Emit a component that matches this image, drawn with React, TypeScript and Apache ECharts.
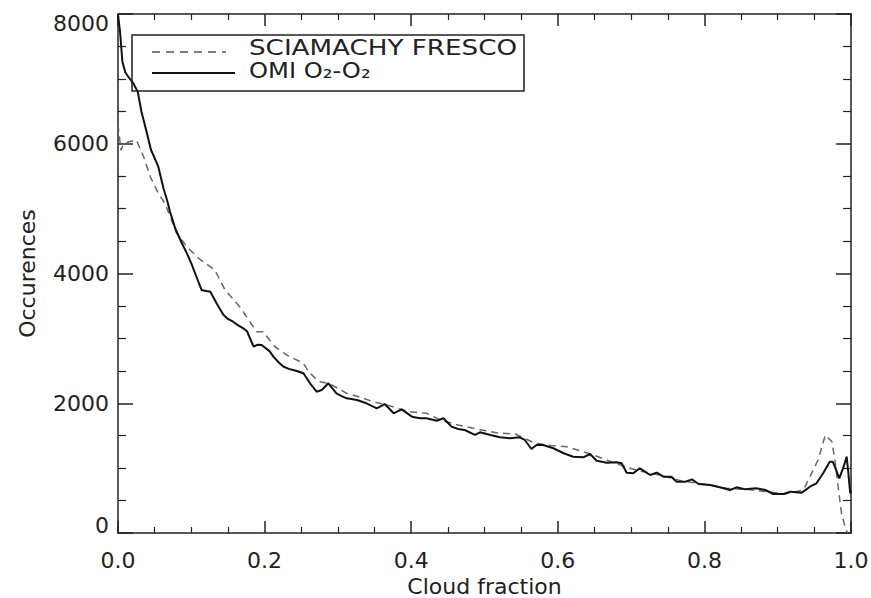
import React, { useEffect, useRef } from "react";
import * as echarts from "echarts";

// OMI O2-O2 (solid)
const cloudFractionOmi = [
  0.0, 0.003, 0.006, 0.01, 0.014, 0.021, 0.027, 0.032, 0.039, 0.045, 0.05, 0.055, 0.062, 0.067, 0.071,
  0.078, 0.087, 0.094, 0.1, 0.107, 0.114, 0.12, 0.126, 0.135, 0.144, 0.15, 0.157, 0.164, 0.171, 0.176,
  0.185, 0.19, 0.196, 0.207, 0.212, 0.22, 0.226, 0.233, 0.239, 0.246, 0.253, 0.262, 0.271, 0.278, 0.287,
  0.298, 0.305, 0.312, 0.326, 0.339, 0.353, 0.364, 0.376, 0.387, 0.401, 0.412, 0.421, 0.435, 0.444, 0.455,
  0.464, 0.473, 0.487, 0.494, 0.508, 0.521, 0.535, 0.548, 0.555, 0.564, 0.571, 0.58, 0.594, 0.608, 0.621,
  0.635, 0.644, 0.653, 0.667, 0.68, 0.687, 0.694, 0.703, 0.712, 0.726, 0.735, 0.744, 0.755, 0.762, 0.774,
  0.783, 0.792, 0.808, 0.821, 0.835, 0.844, 0.855, 0.871, 0.883, 0.894, 0.908, 0.917, 0.933, 0.944, 0.953,
  0.962, 0.971, 0.975, 0.978, 0.984, 0.99, 0.994, 0.996, 0.999, 1.0,
];
const occurrencesOmi = [
  8000, 7700, 7265, 7100, 7033, 6930, 6800, 6494, 6186, 5904, 5780, 5646, 5313, 5130, 4953,
  4697, 4470, 4311, 4157, 3950, 3746, 3730, 3720, 3530, 3360, 3300, 3257, 3200, 3155, 3110,
  2872, 2900, 2898, 2800, 2718, 2620, 2563, 2530, 2513, 2490, 2462, 2308, 2178, 2204, 2308,
  2153, 2110, 2076, 2050, 1999, 1922, 1988, 1845, 1906, 1793, 1768, 1768, 1731, 1768, 1639,
  1603, 1588, 1511, 1552, 1511, 1475, 1460, 1475, 1434, 1295, 1356, 1356, 1306, 1229, 1176,
  1167, 1218, 1114, 1084, 1090, 1074, 930, 920, 997, 894, 930, 868, 868, 791, 791,
  827, 755, 740, 704, 663, 704, 673, 689, 663, 601, 601, 637, 622, 714, 766,
  920, 1099, 1099, 1022, 843, 1022, 1176, 971, 612, 650,
];

// SCIAMACHY FRESCO (dashed)
const cloudFractionSciamachy = [
  0.0, 0.004, 0.008, 0.015, 0.025, 0.035, 0.044, 0.055, 0.064, 0.073, 0.08, 0.094, 0.11, 0.132, 0.146,
  0.162, 0.166, 0.18, 0.189, 0.198, 0.214, 0.23, 0.239, 0.253, 0.26, 0.274, 0.287, 0.3, 0.312, 0.335,
  0.348, 0.367, 0.389, 0.398, 0.421, 0.44, 0.464, 0.496, 0.52, 0.542, 0.569, 0.59, 0.612, 0.645, 0.67,
  0.692, 0.71, 0.74, 0.77, 0.8, 0.83, 0.86, 0.89, 0.91, 0.935, 0.944, 0.955, 0.965, 0.974, 0.978,
  0.983, 0.987, 0.993, 0.996,
];
const occurrencesSciamachy = [
  6300, 5900, 6000, 6030, 6057, 5800, 5492, 5236, 5082, 4825, 4620, 4413, 4234, 4054, 3746,
  3541, 3488, 3257, 3103, 3103, 2872, 2744, 2693, 2616, 2486, 2332, 2308, 2230, 2153, 2076,
  2024, 1973, 1896, 1870, 1845, 1740, 1664, 1588, 1540, 1526, 1383, 1350, 1330, 1218, 1110,
  1022, 960, 890, 800, 750, 690, 670, 630, 600, 663, 868, 1125, 1511, 1407, 1125,
  663, 304, 46, 0,
];

const xTickValues = [0, 0.2, 0.4, 0.6, 0.8, 1.0];
const yTickValues = [0, 2000, 4000, 6000, 8000];

const FONT = "DejaVu Sans";
const INK = "#222";

export default function App() {
  const ref = useRef<HTMLDivElement>(null);

  useEffect(() => {
    if (!ref.current) return;
    const chart = echarts.init(ref.current, null, { renderer: "svg" });

    const omiData = cloudFractionOmi.map((x, i) => [x, occurrencesOmi[i]]);
    const sciaData = cloudFractionSciamachy.map((x, i) => [x, occurrencesSciamachy[i]]);

    const axisLine = { show: true, onZero: false, lineStyle: { color: INK, width: 1.5 } };
    const xBase = {
      type: "value",
      min: xTickValues[0],
      max: xTickValues[xTickValues.length - 1],
      interval: 0.2,
      axisLine,
      axisTick: { show: true, inside: true, length: 12, lineStyle: { color: INK, width: 1.5 } },
      minorTick: { show: true, splitNumber: 4, length: 6, lineStyle: { color: INK, width: 1.2 } },
      splitLine: { show: false },
      minorSplitLine: { show: false },
    };
    const yBase = {
      type: "value",
      min: yTickValues[0],
      max: yTickValues[yTickValues.length - 1],
      interval: 2000,
      axisLine,
      axisTick: { show: true, inside: true, length: 15, lineStyle: { color: INK, width: 1.5 } },
      minorTick: { show: true, splitNumber: 4, length: 8, lineStyle: { color: INK, width: 1.2 } },
      splitLine: { show: false },
      minorSplitLine: { show: false },
    };
    const labelStyle = { fontSize: 22, fontFamily: FONT, color: INK };

    chart.setOption({
      animation: false,
      backgroundColor: "#fff",
      grid: { left: 118, right: 20, top: 14, bottom: 65, outerBoundsMode: "none" },
      xAxis: [
        {
          ...xBase,
          position: "bottom",
          axisLabel: {
            ...labelStyle,
            margin: 16,
            formatter: (v: number) => v.toFixed(1),
          },
          name: "Cloud fraction",
          nameLocation: "middle",
          nameGap: 42,
          nameTextStyle: { ...labelStyle },
        },
        { ...xBase, position: "top", axisLabel: { show: false } },
      ],
      yAxis: [
        {
          ...yBase,
          position: "left",
          axisLabel: {
            ...labelStyle,
            margin: 9,
            formatter: (v: number) =>
              v === 8000 ? "{top|8000}" : v === 0 ? "{bot|0}" : String(v),
            rich: {
              top: { ...labelStyle, padding: [18, 0, 0, 0] },
              bot: { ...labelStyle, padding: [0, 0, 15, 0] },
            },
          },
          name: "Occurences",
          nameLocation: "middle",
          nameGap: 80,
          nameTextStyle: { ...labelStyle },
        },
        { ...yBase, position: "right", axisLabel: { show: false } },
      ],
      series: [
        {
          name: "SCIAMACHY FRESCO",
          type: "line",
          data: sciaData,
          xAxisIndex: 0,
          yAxisIndex: 0,
          showSymbol: false,
          symbol: "none",
          lineStyle: { color: "#666", width: 1.5, type: [7, 5] },
          z: 2,
        },
        {
          name: "OMI O2-O2",
          type: "line",
          data: omiData,
          xAxisIndex: 0,
          yAxisIndex: 0,
          showSymbol: false,
          symbol: "none",
          lineStyle: { color: "#111", width: 2 },
          z: 3,
        },
      ],
      graphic: [
        {
          type: "rect",
          shape: { x: 132, y: 35, width: 392, height: 56 },
          style: { fill: "none", stroke: INK, lineWidth: 1.5 },
          z: 100,
        },
        {
          type: "line",
          shape: { x1: 152, y1: 52, x2: 226, y2: 52 },
          style: { stroke: "#555", lineWidth: 1.5, lineDash: [8, 6] },
          z: 100,
        },
        {
          type: "line",
          shape: { x1: 152, y1: 73, x2: 235, y2: 73 },
          style: { stroke: "#111", lineWidth: 1.8 },
          z: 100,
        },
        {
          type: "text",
          x: 249,
          y: 48,
          scaleX: 1.19,
          style: {
            text: "SCIAMACHY FRESCO",
            fontSize: 22,
            fontFamily: FONT,
            fill: INK,
            align: "left",
            verticalAlign: "middle",
          },
          z: 100,
        },
        {
          type: "text",
          x: 249,
          y: 70,
          scaleX: 1.1,
          style: {
            text: "OMI O₂-O₂",
            fontSize: 22,
            fontFamily: FONT,
            fill: INK,
            align: "left",
            verticalAlign: "middle",
          },
          z: 100,
        },
      ],
    });

    return () => chart.dispose();
  }, []);

  return (
    <div
      ref={ref}
      style={{ position: "fixed", left: 0, top: 0, width: 871, height: 598, background: "#fff" }}
    />
  );
}
